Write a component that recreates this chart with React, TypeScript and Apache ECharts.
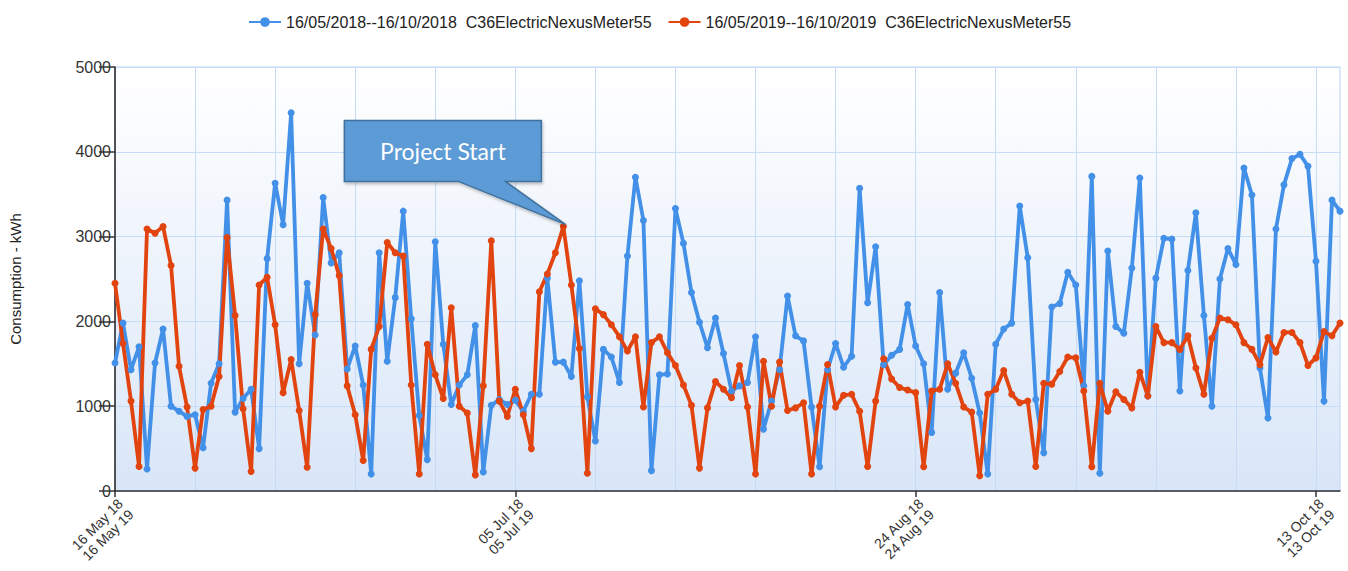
import React, { useEffect, useRef } from "react";
import * as echarts from "echarts";

const seriesNames = [
  "16/05/2018--16/10/2018  C36ElectricNexusMeter55",
  "16/05/2019--16/10/2019  C36ElectricNexusMeter55",
];

const startDates = ["2018-05-16", "2019-05-16"];

const yTicks = [0, 1000, 2000, 3000, 4000, 5000];

const consumption2018 = [
  1510, 1980, 1430, 1700, 260, 1510, 1910, 1000, 940, 880,
  900, 510, 1270, 1500, 3430, 930, 1090, 1200, 500, 2740,
  3630, 3140, 4460, 1500, 2450, 1840, 3460, 2690, 2810, 1440,
  1710, 1250, 200, 2810, 1530, 2280, 3300, 2030, 890, 370,
  2940, 1730, 1020, 1250, 1370, 1950, 225, 1010, 1080, 1020,
  1070, 940, 1140, 1140, 2510, 1520, 1520, 1350, 2480, 1110,
  590, 1670, 1580, 1280, 2770, 3700, 3190, 240, 1370, 1380,
  3330, 2920, 2340, 1990, 1690, 2040, 1620, 1180, 1240, 1280,
  1820, 730, 1060, 1430, 2300, 1830, 1770, 990, 285, 1430,
  1740, 1460, 1590, 3570, 2220, 2880, 1490, 1600, 1670, 2200,
  1710, 1500, 690, 2340, 1200, 1390, 1630, 1330, 920, 200,
  1730, 1910, 1980, 3360, 2750, 1080, 450, 2170, 2210, 2580,
  2430, 1240, 3710, 210, 2830, 1940, 1860, 2630, 3690, 1120,
  2510, 2980, 2970, 1180, 2600, 3280, 2070, 1000, 2500, 2860,
  2670, 3810, 3490, 1450, 860, 3090, 3610, 3920, 3970, 3830,
  2710, 1060, 3430, 3300,
];

const consumption2019 = [
  2450, 1740, 1060, 290, 3090, 3040, 3120, 2660, 1470, 990,
  270, 960, 1000, 1350, 2990, 2070, 970, 230, 2430, 2520,
  1960, 1160, 1550, 950, 280, 2080, 3090, 2860, 2540, 1240,
  900, 360, 1670, 1940, 2930, 2810, 2770, 1250, 200, 1730,
  1370, 1090, 2160, 1000, 920, 190, 1240, 2950, 1060, 880,
  1200, 900, 500, 2350, 2560, 2810, 3120, 2430, 1680, 210,
  2150, 2080, 1960, 1820, 1650, 1820, 990, 1750, 1820, 1630,
  1480, 1250, 1010, 270, 980, 1290, 1200, 1100, 1480, 990,
  200, 1530, 1000, 1520, 950, 980, 1040, 200, 1000, 1490,
  990, 1130, 1140, 940, 290, 1060, 1560, 1320, 1220, 1190,
  1160, 285, 1180, 1200, 1500, 1270, 990, 930, 180, 1140,
  1200, 1420, 1140, 1040, 1060, 290, 1270, 1260, 1410, 1580,
  1570, 1180, 285, 1270, 940, 1170, 1080, 980, 1400, 1120,
  1940, 1750, 1750, 1670, 1830, 1450, 1140, 1800, 2040, 2020,
  1960, 1750, 1670, 1490, 1810, 1640, 1870, 1870, 1750, 1480,
  1570, 1880, 1830, 1980,
];

const annotationText = "Project Start";
const annotationIndex = 56; // 10 Jul, red peak

const MONTHS = ["Jan", "Feb", "Mar", "Apr", "May", "Jun", "Jul", "Aug", "Sep", "Oct", "Nov", "Dec"];

function fmt(start: string, offset: number): string {
  const [y, m, d] = start.split("-").map(Number);
  const dt = new Date(Date.UTC(y, m - 1, d + offset));
  const dd = String(dt.getUTCDate()).padStart(2, "0");
  const yy = String(dt.getUTCFullYear()).slice(2);
  return `${dd} ${MONTHS[dt.getUTCMonth()]} ${yy}`;
}

const categories = consumption2018.map(
  (_, i) => `${fmt(startDates[0], i)}\n${fmt(startDates[1], i)}`
);

const BLUE = "#4390e8";
const RED = "#e2440f";
const FONT = "'Liberation Sans', Arial, sans-serif";

export default function App() {
  const ref = useRef<HTMLDivElement>(null);

  useEffect(() => {
    if (!ref.current) return;
    const chart = echarts.init(ref.current, null, { renderer: "svg" });
    chart.setOption({
      animation: false,
      backgroundColor: "#ffffff",
      textStyle: { fontFamily: FONT },
      legend: {
        top: 9,
        left: 243,
        itemWidth: 32,
        itemHeight: 12,
        itemGap: 16,
        textStyle: { fontSize: 16, color: "#222", fontFamily: FONT },
        data: seriesNames,
      },
      grid: {
        left: 111,
        right: 8,
        top: 67,
        bottom: 80,
        show: true,
        borderColor: "#bcd3f2",
        borderWidth: 1,
        backgroundColor: new echarts.graphic.LinearGradient(0, 0, 0, 1, [
          { offset: 0, color: "#ffffff" },
          { offset: 1, color: "#d9e6f8" },
        ]),
      },
      xAxis: {
        type: "category",
        data: categories,
        boundaryGap: false,
        axisLine: { show: true, lineStyle: { color: "#333", width: 1.5 } },
        axisTick: {
          show: true,
          length: 6,
          interval: (i: number) => i % 50 === 0,
          lineStyle: { color: "#333", width: 1.5 },
        },
        axisLabel: {
          interval: (i: number) => i % 50 === 0,
          rotate: 45,
          fontSize: 14,
          color: "#333",
          margin: 5,
          lineHeight: 15,
          verticalAlign: "top",
          fontFamily: FONT,
        },
        splitLine: {
          show: true,
          interval: (i: number) => i % 10 === 0,
          lineStyle: { color: "#c6dbf6", width: 1 },
        },
      },
      yAxis: {
        type: "value",
        min: yTicks[0],
        max: yTicks[yTicks.length - 1],
        interval: yTicks[1] - yTicks[0],
        name: "Consumption - kWh",
        nameLocation: "middle",
        nameGap: 92,
        nameTextStyle: { fontSize: 15, color: "#222", fontFamily: FONT },
        axisLine: { show: true, lineStyle: { color: "#222", width: 1.5 } },
        axisTick: { show: true, length: 16, lineStyle: { color: "#333", width: 1.5 } },
        axisLabel: {
          fontSize: 16,
          color: "#333",
          margin: 4,
          fontFamily: FONT,
          formatter: (v: number) => String(v),
        },
        splitLine: { show: true, lineStyle: { color: "#c6dbf6", width: 1 } },
      },
      series: [
        {
          name: seriesNames[0],
          type: "line",
          data: consumption2018,
          symbol: "circle",
          symbolSize: 7,
          showSymbol: true,
          showAllSymbol: true,
          color: BLUE,
          lineStyle: { width: 3.8, color: BLUE },
          itemStyle: { color: BLUE },
        },
        {
          name: seriesNames[1],
          type: "line",
          data: consumption2019,
          symbol: "circle",
          symbolSize: 7,
          showSymbol: true,
          showAllSymbol: true,
          color: RED,
          lineStyle: { width: 3.8, color: RED },
          itemStyle: { color: RED },
        },
      ],
    });

    const p = chart.convertToPixel({ xAxisIndex: 0, yAxisIndex: 0 }, [
      annotationIndex,
      consumption2019[annotationIndex],
    ]) as number[];
    if (p) {
      const [px, py] = p;
      const L = px - 219, R = px - 22, T = py - 106, B = py - 45;
      chart.setOption({
        graphic: [
          {
            type: "polygon",
            z: 100,
            shape: {
              points: [
                [L, T], [R, T], [R, B], [px - 58, B], [px + 2, py - 2],
                [px - 105, B], [L, B],
              ],
            },
            style: {
              fill: "#5b9bd5",
              stroke: "#41719c",
              lineWidth: 1.5,
              shadowBlur: 3,
              shadowOffsetX: 1,
              shadowOffsetY: 2,
              shadowColor: "rgba(0,0,0,0.25)",
            },
          },
          {
            type: "text",
            z: 101,
            x: (L + R) / 2,
            y: (T + B) / 2,
            style: {
              text: annotationText,
              fill: "#ffffff",
              fontSize: 23,
              fontFamily: "Lato, 'Open Sans', sans-serif",
              align: "center",
              verticalAlign: "middle",
            },
          },
        ],
      });
    }

    return () => chart.dispose();
  }, []);

  return (
    <div
      ref={ref}
      style={{ position: "absolute", left: 0, top: 0, width: 1348, height: 571 }}
    />
  );
}
